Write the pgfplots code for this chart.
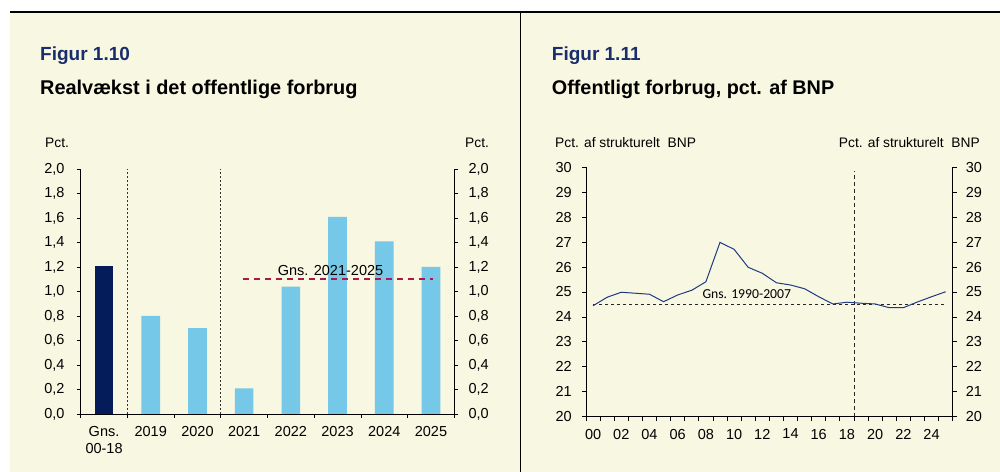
\documentclass[border=0pt]{standalone}
\usepackage{fontspec}
\setmainfont{Liberation Sans}
\newfontfamily\calibri{Carlito}
\usepackage{pgfplots}
\pgfplotsset{compat=1.18}
\definecolor{cream}{RGB}{248,247,226}
\definecolor{navybar}{RGB}{4,28,90}
\definecolor{lightbar}{RGB}{117,200,232}
\definecolor{avgred}{RGB}{172,24,72}
\definecolor{linecol}{RGB}{31,58,130}
\definecolor{titleblue}{RGB}{26,46,110}
\newcommand{\tl}{\fontsize{14.5bp}{17.3bp}\selectfont}
\pgfplotsset{
  base/.style={
    scale only axis, anchor=south west,
    axis on top,
    tick align=outside,
    major tick length=4bp, minor tick length=4bp,
    axis line style={line width=0.8bp, black},
    every tick/.style={line width=0.8bp, black},
    tick label style={font=\tl},
    /pgf/number format/assume math mode=true,
  }
}
\begin{document}
\begin{tikzpicture}[x=1bp,y=1bp]
\useasboundingbox (0,0) rectangle (1000,472);
\fill[white] (0,0) rectangle (1000,472);
\fill[cream] (10,0) rectangle (1000,460);
\draw[line width=1.5bp] (10,460) -- (1000,460);
\draw[line width=1.5bp] (520.5,460) -- (520.5,0);

% titles
\node[anchor=base west, inner sep=0pt, text=titleblue, font=\fontsize{19bp}{22bp}\selectfont\bfseries] at (40,411) {Figur 1.10};
\node[anchor=base west, inner sep=0pt, font=\fontsize{19.9bp}{22bp}\selectfont\bfseries] at (40,377) {Realvækst i det offentlige forbrug};
\node[anchor=base west, inner sep=0pt, text=titleblue, font=\fontsize{19bp}{22bp}\selectfont\bfseries] at (551.7,411) {Figur 1.11};
\node[anchor=base west, inner sep=0pt, font=\fontsize{19.8bp}{22bp}\selectfont\bfseries] at (551.7,377) {Offentligt forbrug, pct. af BNP};
\node[anchor=base west, inner sep=0pt, font=\fontsize{13.8bp}{16bp}\selectfont] at (45,324) {Pct.};
\node[anchor=base west, inner sep=0pt, font=\fontsize{13.8bp}{16bp}\selectfont] at (465,324) {Pct.};
\node[anchor=base west, inner sep=0pt, font=\fontsize{13.8bp}{16bp}\selectfont] at (555,324) {Pct. af strukturelt\ \ BNP};
\node[anchor=base east, inner sep=0pt, font=\fontsize{13.8bp}{16bp}\selectfont] at (980,324) {Pct. af strukturelt\ \ BNP};

% ---------- left chart ----------
\begin{axis}[base,
  at={(80.7bp,58bp)}, width=373.6bp, height=245bp,
  xmin=-0.5, xmax=7.5, ymin=0, ymax=2,
  axis x line*=bottom, axis y line*=left,
  xtick pos=bottom, ytick pos=left,
  xtick={0,1,2,3,4,5,6,7},
  xticklabels={{Gns.\\00-18},2019,2020,2021,2022,2023,2024,2025},
  major x tick style={draw=none},
  minor xtick={-0.5,0.5,...,7.5},
  xticklabel style={align=center, anchor=north, inner sep=0pt, yshift=-8bp},
  ytick={0,0.2,0.4,0.6,0.8,1,1.2,1.4,1.6,1.8,2},
  yticklabel style={anchor=east, inner sep=0pt, xshift=-12bp,
    /pgf/number format/.cd, fixed, fixed zerofill, precision=1, use comma},
]
\addplot[ybar, bar width=0.4, bar shift=0pt, fill=navybar, draw=none] coordinates {(0,1.21)};
\addplot[ybar, bar width=0.4, bar shift=0pt, fill=lightbar, draw=none] coordinates {
 (1,0.80) (2,0.70) (3,0.21) (4,1.04) (5,1.61) (6,1.41) (7,1.20)};
\addplot[black!80, line width=0.8bp, dash pattern=on 2bp off 2bp] coordinates {(0.5,0) (0.5,2)};
\addplot[black!80, line width=0.8bp, dash pattern=on 2bp off 2bp] coordinates {(2.5,0) (2.5,2)};
\addplot[avgred, line width=2bp, dash pattern=on 6bp off 5bp] coordinates {(2.98,1.1) (7.05,1.1)};
\node[anchor=base, inner sep=0pt, font=\tl] at (axis cs:4.85,1.13) {Gns. 2021-2025};
\end{axis}
\begin{axis}[base,
  at={(80.7bp,58bp)}, width=373.6bp, height=245bp,
  xmin=-0.5, xmax=7.5, ymin=0, ymax=2,
  axis y line*=right, axis x line=none,
  ytick pos=right, yticklabel pos=right,
  ytick={0,0.2,0.4,0.6,0.8,1,1.2,1.4,1.6,1.8,2},
  yticklabel style={anchor=west, inner sep=0pt, xshift=10bp,
    /pgf/number format/.cd, fixed, fixed zerofill, precision=1, use comma},
]
\end{axis}

% ---------- right chart ----------
\begin{axis}[base,
  at={(586bp,55.3bp)}, width=366.7bp, height=249.4bp,
  xmin=-0.5, xmax=25.5, ymin=20, ymax=30,
  axis x line*=bottom, axis y line*=left,
  xtick pos=bottom, ytick pos=left,
  xtick={0,2,4,6,8,10,12,14,16,18,20,22,24},
  xticklabels={00,02,04,06,08,10,12,14,16,18,20,22,24},
  major x tick style={draw=none},
  minor xtick={-0.5,0.5,...,25.5},
  xticklabel style={anchor=north, inner sep=0pt, yshift=-8bp},
  ytick={20,21,22,23,24,25,26,27,28,29,30},
  yticklabel style={anchor=east, inner sep=0pt, xshift=-10bp},
]
\addplot[black!85, line width=0.9bp, dash pattern=on 3bp off 3bp] coordinates {(0,24.5) (25,24.5)};
\addplot[black!85, line width=0.9bp, dash pattern=on 4bp off 3bp] coordinates {(18.5,20) (18.5,29.85)};
\addplot[linecol, line width=1bp] coordinates {
 (0,24.45) (1,24.79) (2,24.99) (3,24.95) (4,24.91) (5,24.61) (6,24.88) (7,25.07)
 (8,25.41) (9,26.99) (10,26.71) (11,25.99) (12,25.75) (13,25.37) (14,25.28)
 (15,25.13) (16,24.81) (17,24.52) (18,24.59) (19,24.55) (20,24.52) (21,24.37)
 (22,24.37) (23,24.60) (24,24.81) (25,25.01)};
\node[anchor=base, inner sep=0pt, font=\calibri\fontsize{13.7bp}{16bp}\selectfont] at (axis cs:10.9,24.75) {Gns. 1990-2007};
\end{axis}
\begin{axis}[base,
  at={(586bp,55.3bp)}, width=366.7bp, height=249.4bp,
  xmin=-0.5, xmax=25.5, ymin=20, ymax=30,
  axis y line*=right, axis x line=none,
  ytick pos=right, yticklabel pos=right,
  ytick={20,21,22,23,24,25,26,27,28,29,30},
  yticklabel style={anchor=west, inner sep=0pt, xshift=9bp},
]
\end{axis}
\end{tikzpicture}
\end{document}
